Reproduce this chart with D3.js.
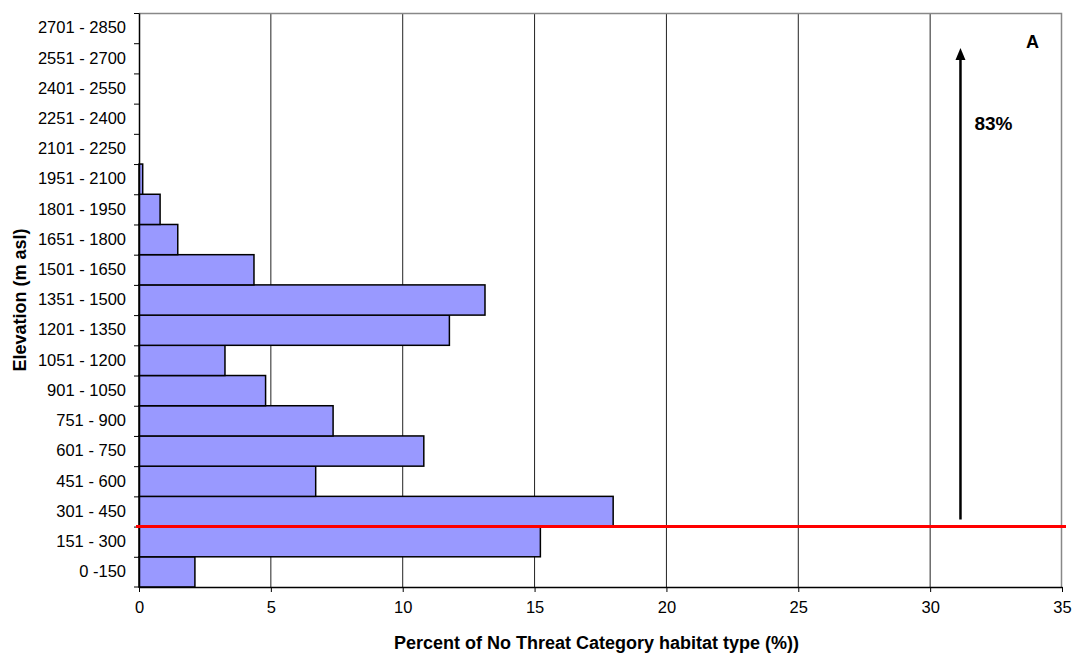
<!DOCTYPE html>
<html>
<head>
<meta charset="utf-8">
<script src="https://cdn.jsdelivr.net/npm/d3@7"></script>
<style>
  body { margin: 0; background: #fff; }
  text { font-family: "Liberation Sans", Arial, sans-serif; }
</style>
</head>
<body>
<div id="chart"></div>
<script>
// elevation classes, bottom to top
var classes = ["0 -150", "151 - 300", "301 - 450", "451 - 600", "601 - 750", "751 - 900",
  "901 - 1050", "1051 - 1200", "1201 - 1350", "1351 - 1500", "1501 - 1650", "1651 - 1800",
  "1801 - 1950", "1951 - 2100", "2101 - 2250", "2251 - 2400", "2401 - 2550", "2551 - 2700",
  "2701 - 2850"];
var percent = [2.12, 15.22, 17.98, 6.70, 10.80, 7.36, 4.80, 3.26, 11.77, 13.12, 4.36, 1.47,
  0.80, 0.14, 0, 0, 0, 0, 0];
var xTicks = [0, 5, 10, 15, 20, 25, 30, 35];

var margin = {top: 13, right: 14, bottom: 67, left: 139},
  width = 1076 - margin.left - margin.right,
  height = 654 - margin.top - margin.bottom;

var svg = d3.select("#chart")
  .append("svg")
    .attr("width", 1076)
    .attr("height", 654)
  .append("g")
    .attr("transform", "translate(" + margin.left + "," + margin.top + ")");

var x = d3.scaleLinear().domain([0, 35]).range([0, width]);
var y = d3.scaleBand().domain(classes).range([height, 0]).padding(0);

// vertical gridlines
svg.selectAll(".grid")
  .data(xTicks.slice(1, -1))
  .enter().append("line")
    .attr("x1", function(d) { return x(d); })
    .attr("x2", function(d) { return x(d); })
    .attr("y1", 0).attr("y2", height)
    .style("stroke", "#222").style("stroke-width", 1);

// frame top / right
svg.append("path")
  .attr("d", "M0,0.5H" + (width - 0.5) + "V" + height)
  .style("fill", "none").style("stroke", "#888").style("stroke-width", 1.5);

// bars
svg.selectAll(".bar")
  .data(percent)
  .enter().append("rect")
    .attr("x", 0)
    .attr("y", function(d, i) { return y(classes[i]); })
    .attr("width", function(d) { return x(d); })
    .attr("height", y.bandwidth())
    .style("fill", function(d) { return d > 0 ? "#9999ff" : "none"; })
    .style("stroke", function(d) { return d > 0 ? "#000" : "none"; })
    .style("stroke-width", 1.5);

// axes
var xAxis = svg.append("g")
  .attr("transform", "translate(0," + height + ")")
  .call(d3.axisBottom(x).tickValues(xTicks).tickSize(5).tickPadding(9).tickSizeOuter(0));
var yAxis = svg.append("g")
  .call(d3.axisLeft(y).tickSize(0).tickPadding(13));
// band-boundary ticks on y
yAxis.selectAll(".bound")
  .data(classes)
  .enter().append("line")
    .attr("x1", -5).attr("x2", 0)
    .attr("y1", function(d) { return y(d) + 0.5; })
    .attr("y2", function(d) { return y(d) + 0.5; })
    .style("stroke", "#000");
yAxis.append("line")
  .attr("x1", -5).attr("x2", 0).attr("y1", height).attr("y2", height)
  .style("stroke", "#000");

[xAxis, yAxis].forEach(function(a) {
  a.selectAll("path").style("stroke", "#000").style("stroke-width", 1.5);
  a.selectAll("line").style("stroke", "#000");
  a.selectAll("text").style("font-size", "16.5px").style("fill", "#000")
    .style("font-family", "'Liberation Sans', Arial, sans-serif");
});

// 300 m threshold line
svg.append("line")
  .attr("x1", -3).attr("x2", width + 4)
  .attr("y1", y("151 - 300")).attr("y2", y("151 - 300"))
  .style("stroke", "#ff0000").style("stroke-width", 3);

// arrow
var ax = x(31.15);
svg.append("line")
  .attr("x1", ax).attr("x2", ax)
  .attr("y1", y("151 - 300") - 7).attr("y2", y("2701 - 2850") + 44)
  .style("stroke", "#000").style("stroke-width", 2.5);
svg.append("path")
  .attr("d", "M" + ax + "," + (y("2701 - 2850") + 35) + "l-5,12h10z")
  .style("fill", "#000");

svg.append("text")
  .attr("x", x(31.15) + 14).attr("y", 117)
  .style("font-size", "19px").style("font-weight", "bold")
  .text("83%");
svg.append("text")
  .attr("x", width - 36).attr("y", 35)
  .style("font-size", "18px").style("font-weight", "bold")
  .text("A");

// axis titles
svg.append("text")
  .attr("x", width / 2 - 4).attr("y", height + 62)
  .attr("text-anchor", "middle")
  .style("font-size", "18px").style("font-weight", "bold")
  .text("Percent of No Threat Category habitat type (%))");
svg.append("text")
  .attr("transform", "translate(" + (-113) + "," + (height / 2) + ") rotate(-90)")
  .attr("text-anchor", "middle")
  .style("font-size", "18px").style("font-weight", "bold")
  .text("Elevation (m asl)");
</script>
</body>
</html>
